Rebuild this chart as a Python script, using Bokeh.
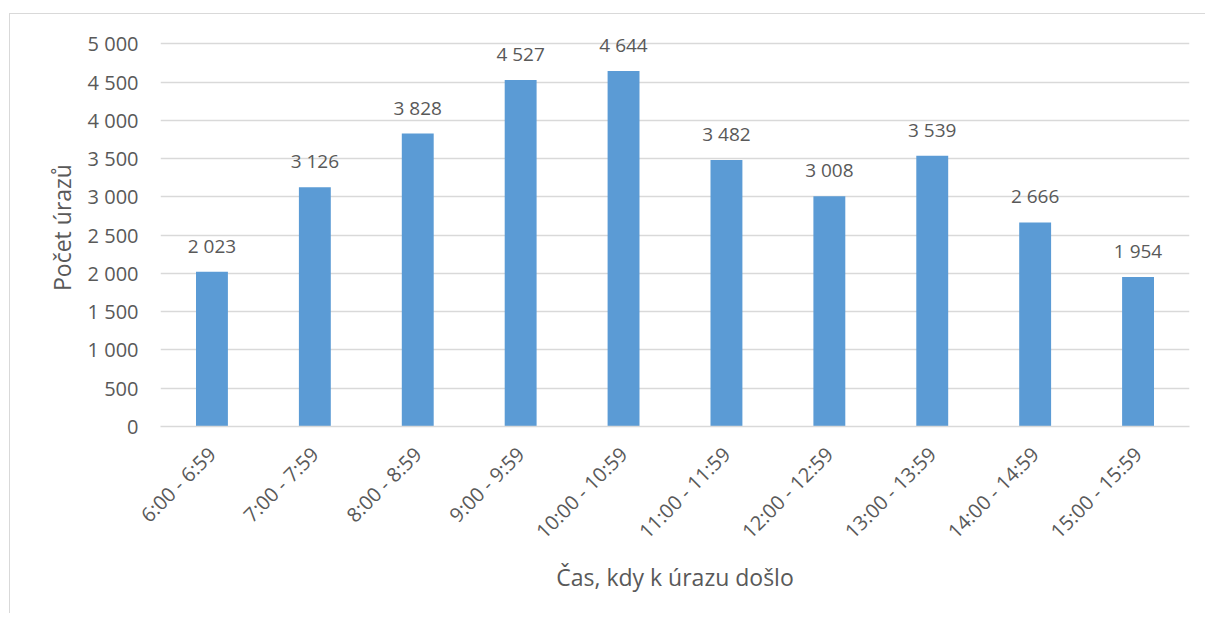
from bokeh.plotting import figure
from bokeh.models import ColumnDataSource, LabelSet, FixedTicker, CustomJSTickFormatter
from bokeh.core.properties import value
from bokeh.embed import file_html
from bokeh.resources import INLINE
import math

categories = ["6:00 - 6:59", "7:00 - 7:59", "8:00 - 8:59", "9:00 - 9:59", "10:00 - 10:59",
              "11:00 - 11:59", "12:00 - 12:59", "13:00 - 13:59", "14:00 - 14:59", "15:00 - 15:59"]
counts = [2023, 3126, 3828, 4527, 4644, 3482, 3008, 3539, 2666, 1954]
y_ticks = [0, 500, 1000, 1500, 2000, 2500, 3000, 3500, 4000, 4500, 5000]

def fmt(v):
    return "{:,}".format(v).replace(",", " ")

source = ColumnDataSource(dict(cat=categories, val=counts, lbl=[fmt(v) for v in counts]))

FONT = "Open Sans"
TXT = "#595959"

p = figure(x_range=categories, y_range=(0, 5200), width=1196, height=600,
           output_backend="svg", toolbar_location=None,
           min_border_left=150, min_border_right=17, min_border_top=14, min_border_bottom=188)
p.margin = (13, 0, 0, 9)
p.styles = {"border-left": "1px solid #d9d9d9", "border-top": "1px solid #d9d9d9"}

p.vbar(x="cat", top="val", width=0.31, source=source, color="#5B9BD5", line_color=None)

labels = LabelSet(x="cat", y="val", text="lbl", source=source, text_align="center",
                  text_baseline="middle", y_offset=26, text_font=value(FONT),
                  text_font_size="19px", text_color=TXT)
p.add_layout(labels)

p.outline_line_color = None
p.xgrid.grid_line_color = None
p.ygrid.grid_line_color = "#d9d9d9"
p.ygrid.grid_line_width = 1.5

p.yaxis.ticker = FixedTicker(ticks=y_ticks)
p.yaxis.formatter = CustomJSTickFormatter(code="return tick.toString().replace(/\\B(?=(\\d{3})+(?!\\d))/g, ' ');")
p.yaxis.axis_line_color = None
p.yaxis.major_tick_line_color = None
p.yaxis.minor_tick_line_color = None
p.yaxis.major_label_text_font = FONT
p.yaxis.major_label_text_font_size = "20px"
p.yaxis.major_label_text_color = TXT
p.yaxis.major_label_standoff = 16
p.yaxis.axis_label = "Počet úrazů"
p.yaxis.axis_label_text_font = FONT
p.yaxis.axis_label_text_font_size = "23px"
p.yaxis.axis_label_text_font_style = "normal"
p.yaxis.axis_label_text_color = TXT
p.yaxis.axis_label_standoff = 7

p.xaxis.axis_line_color = "#d9d9d9"
p.xaxis.axis_line_width = 1.5
p.xaxis.major_tick_line_color = None
p.xaxis.minor_tick_line_color = None
p.xaxis.major_label_orientation = math.pi / 4
p.xaxis.major_label_text_font = FONT
p.xaxis.major_label_text_font_size = "20px"
p.xaxis.major_label_text_color = TXT
p.xaxis.major_label_standoff = 18
p.xaxis.axis_label = "Čas, kdy k úrazu došlo"
p.xaxis.axis_label_text_font = FONT
p.xaxis.axis_label_text_font_size = "23px"
p.xaxis.axis_label_text_font_style = "normal"
p.xaxis.axis_label_text_color = TXT
p.xaxis.axis_label_standoff = 4

open("out.html", "w").write(file_html(p, INLINE))
